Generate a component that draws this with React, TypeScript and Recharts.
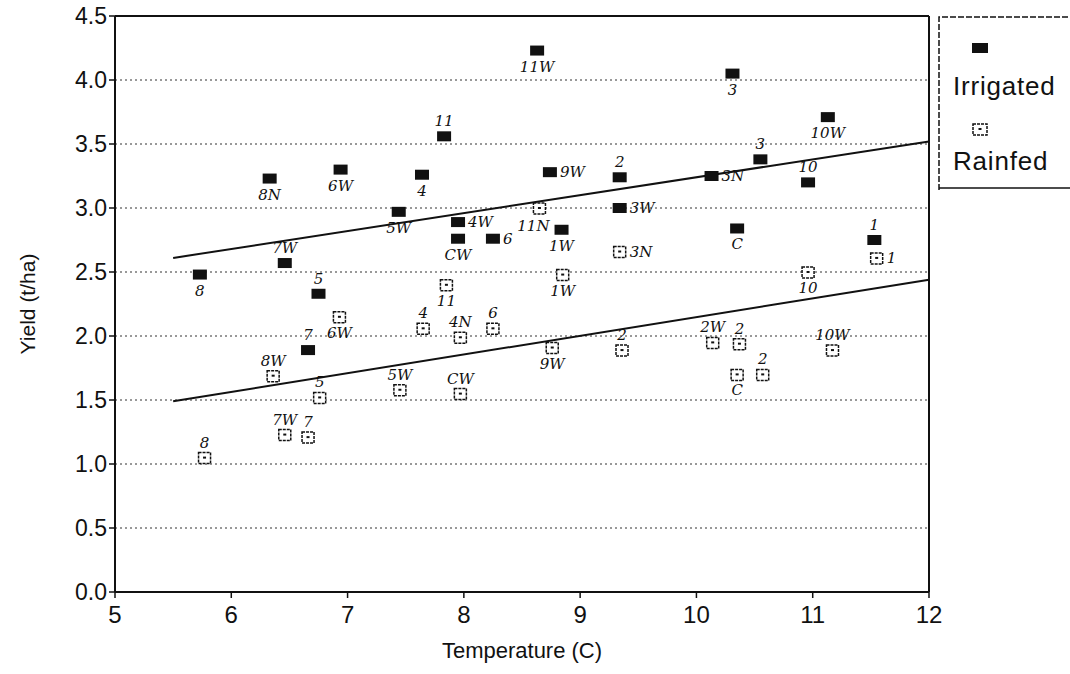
import React from 'react';
import {
  ScatterChart, Scatter, XAxis, YAxis, CartesianGrid, ReferenceLine, Label,
} from 'recharts';

// Irrigated sites (filled squares)
const irrigatedTemp = [5.73, 6.33, 6.94, 6.46, 6.75, 6.66, 8.63, 7.83, 7.64, 7.44, 7.95, 7.95, 8.25, 8.74, 8.84, 9.34, 9.34, 10.31, 11.13, 10.55, 10.13, 10.96, 10.35, 11.53];
const irrigatedYield = [2.48, 3.23, 3.3, 2.57, 2.33, 1.89, 4.23, 3.56, 3.26, 2.97, 2.89, 2.76, 2.76, 3.28, 2.83, 3.24, 3.0, 4.05, 3.71, 3.38, 3.25, 3.2, 2.84, 2.75];
const irrigatedTag = ['8', '8N', '6W', '7W', '5', '7', '11W', '11', '4', '5W', '4W', 'CW', '6', '9W', '1W', '2', '3W', '3', '10W', '3', '3N', '10', 'C', '1'];

// Rainfed sites (open squares)
const rainfedTemp = [8.65, 9.34, 8.85, 7.85, 11.55, 10.96, 6.36, 6.93, 6.76, 6.46, 6.66, 5.77, 7.65, 7.97, 8.25, 8.76, 9.36, 7.45, 7.97, 10.14, 10.37, 10.35, 10.57, 11.17];
const rainfedYield = [3.0, 2.66, 2.48, 2.4, 2.61, 2.5, 1.69, 2.15, 1.52, 1.23, 1.21, 1.05, 2.06, 1.99, 2.06, 1.91, 1.89, 1.58, 1.55, 1.95, 1.94, 1.7, 1.7, 1.89];
const rainfedTag = ['11N', '3N', '1W', '11', '1', '10', '8W', '6W', '5', '7W', '7', '8', '4', '4N', '6', '9W', '2', '5W', 'CW', '2W', '2', 'C', '2', '10W'];

// fitted regression lines (end points)
const fitTemp = [5.5, 12];
const irrigatedFit = [2.61, 3.52];
const rainfedFit = [1.49, 2.44];

const xTicks = [5, 6, 7, 8, 9, 10, 11, 12];
const yTicks = [0, 0.5, 1, 1.5, 2, 2.5, 3, 3.5, 4, 4.5];

// where the handwritten tag sits relative to the mark
const irrigatedSide = ['b', 'b', 'b', 't', 't', 't', 'b', 't', 'b', 'b', 'r', 'b', 'r', 'r', 'b', 't', 'r', 'b', 'b', 't', 'r', 't', 'b', 't'];
const rainfedSide = ['l', 'r', 'b', 'b', 'r', 'b', 't', 'b', 't', 't', 't', 't', 't', 't', 't', 'b', 't', 't', 't', 't', 't', 'b', 't', 't'];

const irrigated = irrigatedTemp.map((x, i) => ({ x, y: irrigatedYield[i], tag: irrigatedTag[i], side: irrigatedSide[i] }));
const rainfed = rainfedTemp.map((x, i) => ({ x, y: rainfedYield[i], tag: rainfedTag[i], side: rainfedSide[i] }));
const irrigatedLine = fitTemp.map((x, i) => ({ x, y: irrigatedFit[i] }));
const rainfedLine = fitTemp.map((x, i) => ({ x, y: rainfedFit[i] }));

const FONT = '"Liberation Sans", Arial, Helvetica, sans-serif';
const HAND = '"DejaVu Serif", serif';

function Tag({ cx, cy, tag, side }: any) {
  let x = cx, y = cy + 21, anchor: any = 'middle';
  if (side === 't') y = cy - 10;
  if (side === 'r') { x = cx + 10; y = cy + 5; anchor = 'start'; }
  if (side === 'l') { x = cx - 6; y = cy + 23; }
  return (
    <text x={x} y={y} textAnchor={anchor} fontSize={15} fontStyle="italic" fontFamily={HAND} fill="#111">
      {tag}
    </text>
  );
}

function FilledMark(props: any) {
  const { cx, cy, payload } = props;
  if (cx == null) return <g />;
  return (
    <g>
      <rect x={cx - 7} y={cy - 5} width={14} height={10} fill="#111" />
      <Tag cx={cx} cy={cy} tag={payload.tag} side={payload.side} />
    </g>
  );
}

function OpenMark(props: any) {
  const { cx, cy, payload } = props;
  if (cx == null) return <g />;
  return (
    <g>
      <rect x={cx - 6} y={cy - 5} width={12} height={11} fill="#fff" stroke="#111" strokeWidth={1.5} strokeDasharray="3 1" />
      <rect x={cx - 1.5} y={cy - 1} width={3} height={2} fill="#111" />
      <Tag cx={cx} cy={cy} tag={payload.tag} side={payload.side} />
    </g>
  );
}

const NoMark = () => <g />;

function LegendBox() {
  return (
    <svg width={132} height={174} style={{ position: 'absolute', left: 938, top: 16 }}>
      <path d="M1 174 L1 1 L132 1" fill="none" stroke="#111" strokeWidth={1.5} strokeDasharray="6 2" />
      <line x1={1} y1={172} x2={132} y2={172} stroke="#111" strokeWidth={1.5} />
      <rect x={34} y={27} width={16} height={10} fill="#111" />
      <text x={15} y={79} fontSize={26} letterSpacing={0.8} fontFamily={FONT} fill="#111">Irrigated</text>
      <rect x={35} y={108} width={14} height={11} fill="#fff" stroke="#111" strokeWidth={1.5} strokeDasharray="3 1" />
      <rect x={40.5} y={112} width={3} height={2} fill="#111" />
      <text x={15} y={154} fontSize={26} letterSpacing={0.8} fontFamily={FONT} fill="#111">Rainfed</text>
    </svg>
  );
}

export default function App() {
  return (
    <div style={{ position: 'absolute', left: 0, top: 0, width: 1070, height: 674, background: '#fff' }}>
      <ScatterChart width={1070} height={674} margin={{ top: 16, right: 141, left: 55, bottom: 22 }}>
        <CartesianGrid horizontal vertical={false} stroke="#333" strokeDasharray="2 3" />
        <XAxis
          type="number"
          dataKey="x"
          domain={[5, 12]}
          ticks={xTicks}
          interval={0}
          height={60}
          tick={{ fontSize: 24, fontFamily: FONT, fill: '#111', dy: 6 }}
          tickSize={6}
          axisLine={{ stroke: '#111', strokeWidth: 2 }}
          tickLine={{ stroke: '#111', strokeWidth: 1.5 }}
        >
          <Label value="Temperature (C)" position="insideBottom" offset={-6} style={{ fontSize: 22, fontFamily: FONT, fill: '#111' }} />
        </XAxis>
        <YAxis
          type="number"
          dataKey="y"
          domain={[0, 4.5]}
          ticks={yTicks}
          interval={0}
          width={60}
          tickFormatter={(v: number) => v.toFixed(1)}
          tick={{ fontSize: 23, fontFamily: FONT, fill: '#111' }}
          tickSize={6}
          axisLine={{ stroke: '#111', strokeWidth: 2 }}
          tickLine={{ stroke: '#111', strokeWidth: 1.5 }}
        >
          <Label value="Yield (t/ha)" angle={-90} position="insideLeft" offset={-27} style={{ fontSize: 21, fontFamily: FONT, fill: '#111', textAnchor: 'middle' }} />
        </YAxis>
        <ReferenceLine y={4.5} stroke="#111" strokeWidth={2} />
        <ReferenceLine x={12} stroke="#111" strokeWidth={2} />
        <Scatter name="irrigated fit" data={irrigatedLine} line={{ stroke: '#111', strokeWidth: 2 }} shape={NoMark} legendType="none" isAnimationActive={false} />
        <Scatter name="rainfed fit" data={rainfedLine} line={{ stroke: '#111', strokeWidth: 2 }} shape={NoMark} legendType="none" isAnimationActive={false} />
        <Scatter name="Irrigated" data={irrigated} shape={FilledMark} isAnimationActive={false} />
        <Scatter name="Rainfed" data={rainfed} shape={OpenMark} isAnimationActive={false} />
      </ScatterChart>
      <LegendBox />
    </div>
  );
}
